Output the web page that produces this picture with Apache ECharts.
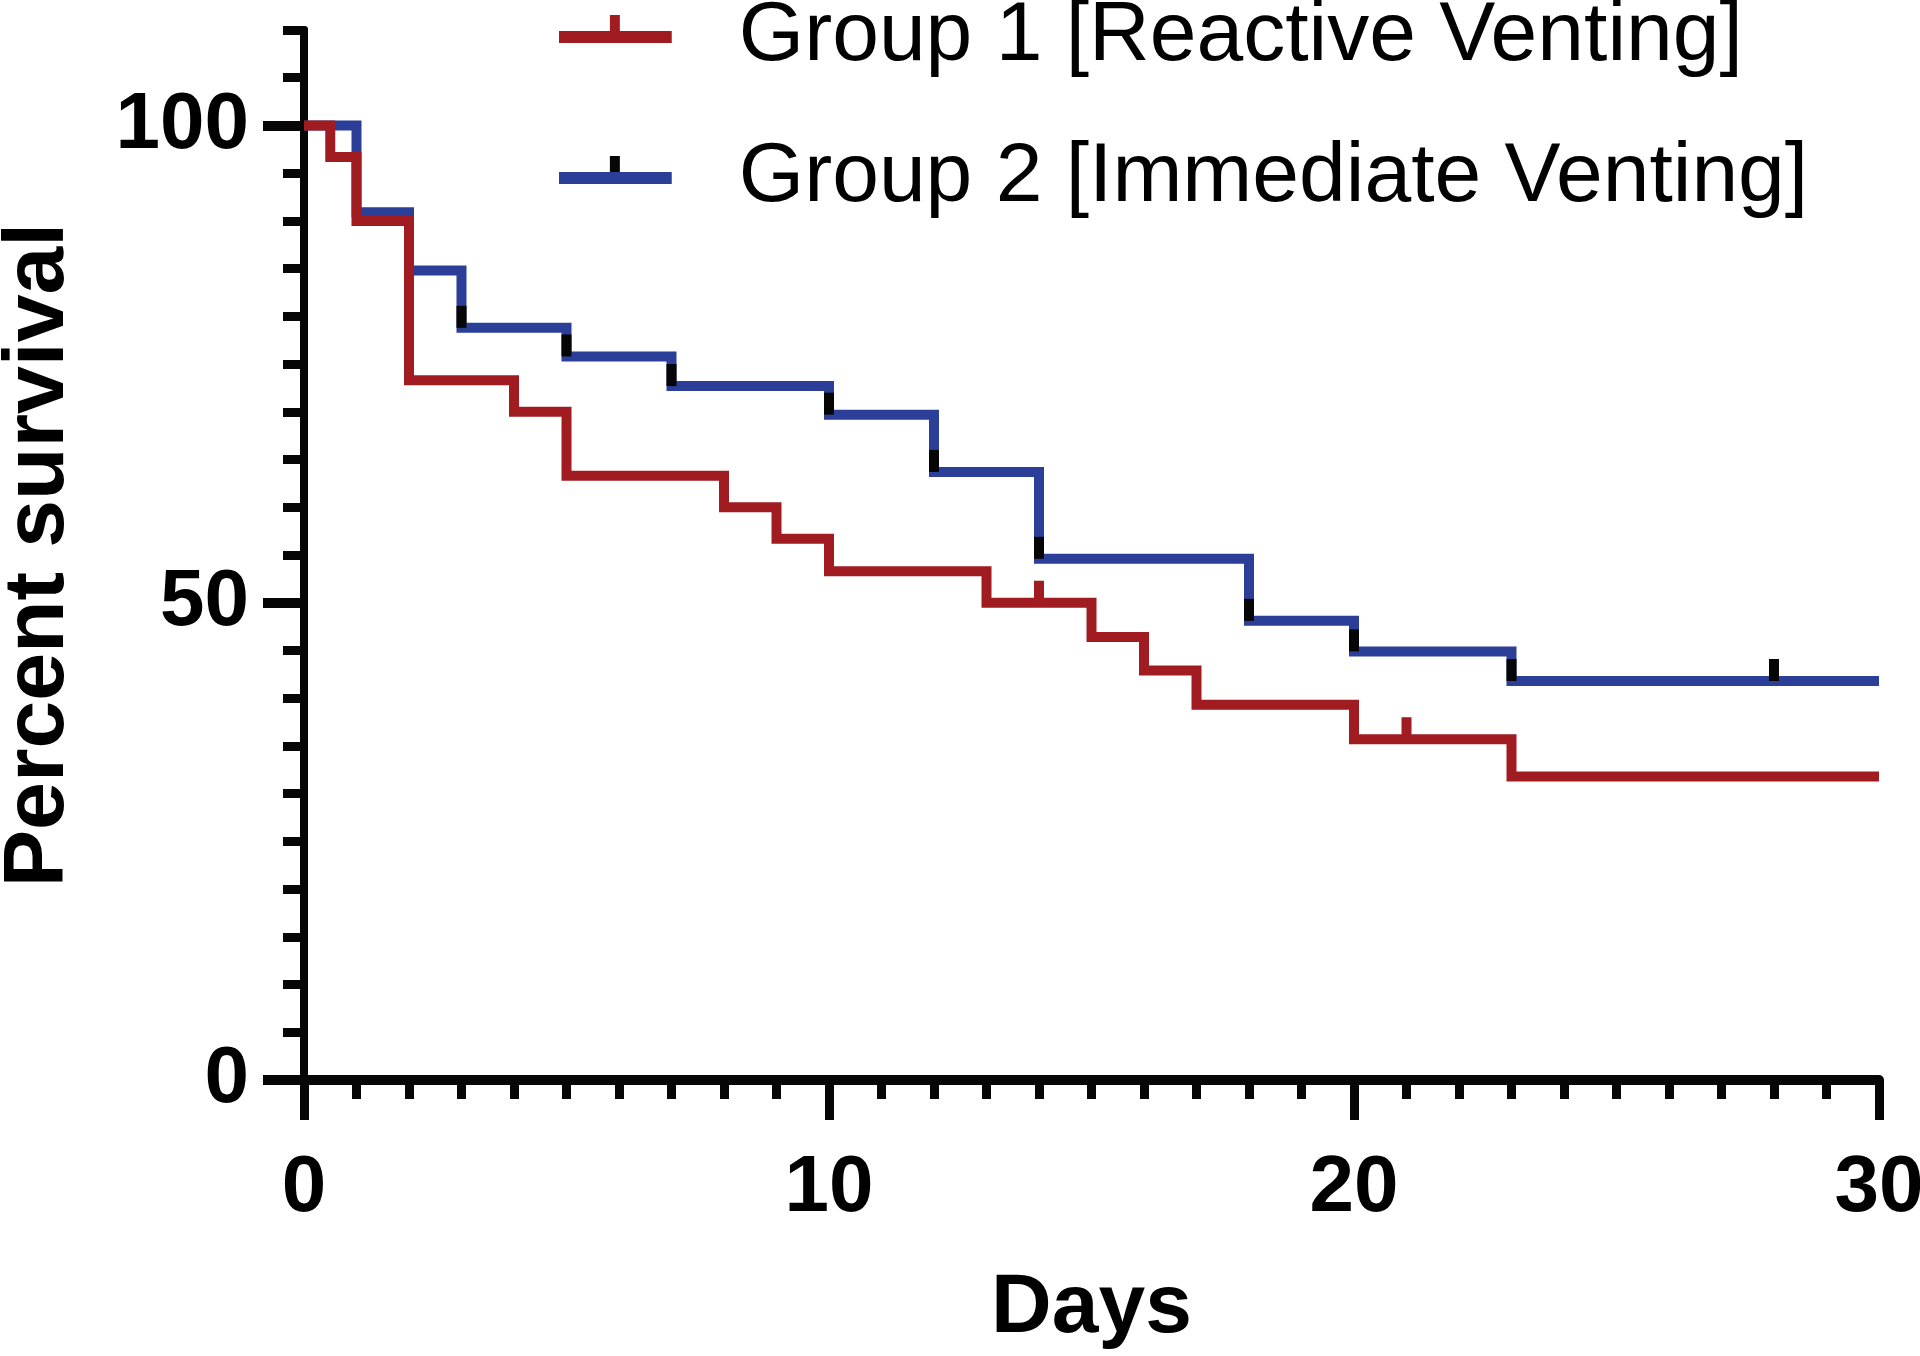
<!DOCTYPE html>
<html><head><meta charset="utf-8">
<script src="https://cdn.jsdelivr.net/npm/echarts@6/dist/echarts.min.js"></script>
<style>html,body{margin:0;padding:0;background:#fff}#c{width:1920px;height:1356px}</style>
</head><body><div id="c"></div>
<script>
// ---- data ----
const seriesNames = ['Group 1 [Reactive Venting]', 'Group 2 [Immediate Venting]'];
const g1Days = [0, 0.5, 1, 2, 4, 5, 8, 9, 10, 13, 15, 16, 17, 20, 23, 30];
const g1Pct  = [100, 96.7, 90, 73.3, 70, 63.3, 60, 56.7, 53.3, 50, 46.4, 42.9, 39.3, 35.7, 31.8, 31.8];
const g1CensorDays = [14, 21];
const g2Days = [0, 1, 2, 3, 5, 7, 10, 12, 14, 18, 20, 23, 30];
const g2Pct  = [100, 90.9, 84.8, 78.8, 75.8, 72.7, 69.7, 63.7, 54.6, 48.1, 44.9, 41.8, 41.8];
const g2CensorDays = [3, 5, 7, 10, 12, 14, 18, 20, 23, 28];
const xTickLabels = [0, 10, 20, 30];
const yTickLabels = [0, 50, 100];

const RED = '#A01C21', BLUE = '#2C3F98', BLACK = '#060606';
const FONT = '"Liberation Sans", Arial, Helvetica, sans-serif';

function pairs(xs, ys) { return xs.map((x, i) => [x, ys[i]]); }
function levelAt(xs, ys, d) { let v = ys[0]; for (let i = 0; i < xs.length; i++) { if (xs[i] <= d) v = ys[i]; } return v; }
const g1Censor = g1CensorDays.map(d => [d, levelAt(g1Days, g1Pct, d)]);
const g2Censor = g2CensorDays.map(d => [d, levelAt(g2Days, g2Pct, d)]);

const legendIcon = 'path://M0,16L113,16L113,28L0,28Z M51,0L61,0L61,16L51,16Z M0,44L0.1,44L0,44.1Z';

const chart = echarts.init(document.getElementById('c'), null, {renderer: 'canvas'});
chart.setOption({
  animation: false,
  backgroundColor: '#fff',
  grid: {left: 304, right: 41, top: 30, bottom: 276, containLabel: false, outerBoundsMode: 'none'},
  legend: {
    orient: 'vertical', left: 554, top: -10,
    itemWidth: 113, itemHeight: 44, itemGap: 57,
    selectedMode: false,
    itemStyle: {borderWidth: 0},
    textStyle: {fontSize: 84, fontFamily: FONT, color: '#000', padding: [0, 0, 0, 62], lineHeight: 84},
    data: [
      {name: seriesNames[0], icon: legendIcon, itemStyle: {color: RED, borderWidth: 0}},
      {name: seriesNames[1], icon: legendIcon, itemStyle: {borderWidth: 0, color: {
        type: 'linear', x: 0, y: 0, x2: 0, y2: 1,
        colorStops: [{offset: 0, color: BLACK}, {offset: 0.36, color: BLACK}, {offset: 0.361, color: BLUE}, {offset: 1, color: BLUE}]
      }}}
    ]
  },
  xAxis: {
    type: 'value', min: 0, max: 30, interval: 10,
    name: 'Days', nameLocation: 'middle', nameGap: 187,
    nameTextStyle: {fontSize: 84, fontWeight: 'bold', fontFamily: FONT, color: '#000'},
    axisLine: {show: true, onZero: false, lineStyle: {color: BLACK, width: 10}},
    axisTick: {show: true, length: 40, lineStyle: {color: BLACK, width: 9}},
    minorTick: {show: true, splitNumber: 10, length: 19, lineStyle: {color: BLACK, width: 9}},
    splitLine: {show: false}, minorSplitLine: {show: false},
    axisLabel: {
      fontSize: 80, fontWeight: 'bold', fontFamily: FONT, color: '#000', margin: 69,
      customValues: xTickLabels
    }
  },
  yAxis: [{
    type: 'value', min: 0, max: 110, interval: 5, position: 'left',
    name: 'Percent survival', nameLocation: 'middle', nameGap: 222,
    nameTextStyle: {fontSize: 86, fontWeight: 'bold', fontFamily: FONT, color: '#000'},
    axisLine: {show: true, onZero: false, lineStyle: {color: BLACK, width: 8}},
    axisTick: {show: true, length: 21, lineStyle: {color: BLACK, width: 9}},
    splitLine: {show: false},
    axisLabel: {show: false}
  }, {
    type: 'value', min: 0, max: 110, interval: 50, position: 'left', offset: 0,
    axisLine: {show: true, onZero: false, lineStyle: {color: BLACK, width: 8}},
    axisTick: {show: true, length: 41, lineStyle: {color: BLACK, width: 10}, customValues: yTickLabels},
    splitLine: {show: false},
    axisLabel: {
      fontSize: 80, fontWeight: 'bold', fontFamily: FONT, color: '#000', margin: 55,
      customValues: yTickLabels
    }
  }],
  series: [
    {
      name: seriesNames[0], type: 'line', step: 'end', data: pairs(g1Days, g1Pct),
      showSymbol: false, symbol: 'none', color: RED, z: 3,
      lineStyle: {color: RED, width: 10, join: 'miter', cap: 'butt'}
    },
    {
      name: seriesNames[1], type: 'line', step: 'end', data: pairs(g2Days, g2Pct),
      showSymbol: false, symbol: 'none', color: BLUE, z: 2,
      lineStyle: {color: BLUE, width: 10, join: 'miter', cap: 'butt'}
    },
    {
      name: 'g1 censored', type: 'scatter', data: g1Censor, symbol: 'rect',
      symbolSize: [10, 22], symbolOffset: [0, -11], itemStyle: {color: RED, opacity: 1}, z: 4, silent: true
    },
    {
      name: 'g2 censored', type: 'scatter', data: g2Censor, symbol: 'rect',
      symbolSize: [10, 22], symbolOffset: [0, -11], itemStyle: {color: BLACK, opacity: 1}, z: 4, silent: true
    }
  ]
});
</script>
</body></html>
